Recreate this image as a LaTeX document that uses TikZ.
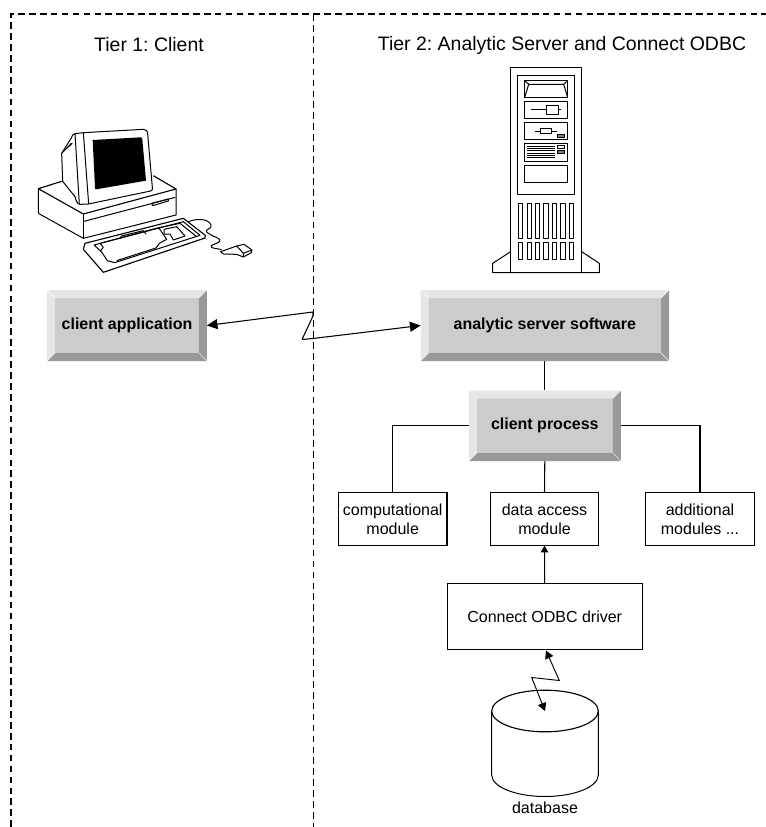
\documentclass[tikz,border=0pt]{standalone}
\usepackage{fontspec}
\setmainfont{Liberation Sans}
\usetikzlibrary{arrows.meta}
\definecolor{bevL}{HTML}{E6E6E6}
\definecolor{bevM}{HTML}{CCCCCC}
\definecolor{bevD}{HTML}{999999}
\newcommand{\bevelbg}[4]{%
  \fill[bevM] (#1,#2) rectangle (#3,#4);
  \fill[bevL] (#1,#4) -- (#1,#2) -- (#3,#2) -- ({#3-8},{#2+8}) -- ({#1+8},{#2+8}) -- ({#1+8},{#4-8}) -- cycle;
  \fill[bevD] (#1,#4) -- (#3,#4) -- (#3,#2) -- ({#3-8},{#2+8}) -- ({#3-8},{#4-8}) -- ({#1+8},{#4-8}) -- cycle;
  \draw[white,line width=0.3pt] (#1,#2) -- ({#1+8},{#2+8}) (#3,#2) -- ({#3-8},{#2+8}) (#3,#4) -- ({#3-8},{#4-8}) (#1,#4) -- ({#1+8},{#4-8});
}
\tikzset{
  line/.style={black,line width=0.8pt},
  thinl/.style={black,line width=0.7pt},
  tier/.style={font=\fontsize{14.6}{17}\selectfont,inner sep=0pt},
  bevel/.style={draw=none,inner sep=0pt,outer sep=0pt,align=center,font=\fontsize{12}{14}\selectfont\bfseries},
  module/.style={draw=black,line width=0.8pt,fill=white,inner sep=0pt,outer sep=0pt,align=center,font=\fontsize{12}{14.25}\selectfont},
  frame/.style={black,line width=1pt,dash pattern=on 5pt off 3.2pt},
  bigtip/.style={{Triangle[length=8pt,width=7.5pt]}-{Triangle[length=8pt,width=7.5pt]}},
  gfx/.style={black,line width=0.75pt,line join=round},
}
\begin{document}
\frenchspacing
\begin{tikzpicture}[x=0.75pt,y=-0.75pt]
\useasboundingbox (0,0) rectangle (766,827);
% frame
\draw[frame] (11,827) -- (11,14) -- (766,14);
\draw[frame] (313.3,14) -- (313.3,827);
% tier titles
\node[tier] (t1) at (149,45) {Tier 1: Client};
\node[tier] (t2) at (562,45) {Tier 2: Analytic Server and Connect ODBC};
% boxes
\bevelbg{47.2}{290}{206.8}{361}
\bevelbg{420.6}{290}{669}{361}
\bevelbg{468.8}{390.5}{620.8}{461}
\node[bevel,minimum width=119.7pt,minimum height=53.25pt] (capp) at (127,325.5) {client application};
\node[bevel,minimum width=186.3pt,minimum height=53.25pt] (asrv) at (544.8,325.5) {analytic server software};
\node[bevel,minimum width=114pt,minimum height=52.9pt] (cproc) at (544.8,425.75) {client process};
\node[module,minimum width=81.4pt,minimum height=40pt] (mcomp) at (392.7,519) {computational\\module};
\node[module,minimum width=81.4pt,minimum height=40pt] (mdata) at (544.5,519) {data access\\module};
\node[module,minimum width=81.4pt,minimum height=40pt] (madd) at (700,519) {additional\\modules ...};
\node[module,minimum width=146.3pt,minimum height=50pt] (odbc) at (544.7,616.5) {Connect ODBC driver};
% connectors
\draw[line] (asrv.south) -- (cproc.north);
\draw[line] (cproc.west) -| (mcomp.north);
\draw[line] (cproc.east) -| (madd.north);
\draw[line] (cproc.south) -- (mdata.north);
\draw[line,-{Triangle[length=5pt,width=5.5pt]}] (odbc.north) -- (mdata.south);
\coordinate (z1) at (313,312);
\coordinate (z2) at (313,316);
\coordinate (z3) at (302,339.5);
\coordinate (z4) at (313,338.5);
\draw[line,line join=bevel,bigtip] (capp.east) -- (z1) -- (z2) -- (z3) -- (z4) -- (asrv.west);
% database
\node[inner sep=0pt,font=\fontsize{12}{14}\selectfont] (dbl) at (545,808) {database};
\coordinate (dbc) at (545,711);
\draw[gfx,fill=white] (491.7,711) -- (491.7,775) arc[start angle=180,end angle=0,x radius=53.3,y radius=21.5] -- (598.3,711);
\draw[gfx,fill=white,line width=0.85pt] (dbc) ellipse[x radius=53.3,y radius=20.8];
\coordinate (y1) at (559.3,680.5);
\coordinate (y2) at (531.7,677.5);
\draw[thinl,{Triangle[length=6pt,width=6.5pt]}-{Triangle[length=6pt,width=6.5pt]}] (546,650.5) -- (y1) -- (y2) -- (dbc);
% server
\begin{scope}[shift={(470,60)},x=0.25pt,y=-0.25pt]
\draw[gfx] (122,22) rectangle (335,638);
\draw[gfx] (122,575) -- (68,610) -- (68,638) -- (388,638) -- (388,610) -- (335,575);
\draw[gfx] (142,47) rectangle (314,403);
\draw[gfx] (164,62) rectangle (293,112);
\draw[gfx] (164,62) -- (176,73) -- (164,112) (293,62) -- (281,73) -- (293,112) (176,73) -- (281,73);
\draw[gfx] (164,125) rectangle (293,176);
\draw[gfx] (183,150) -- (273,150);
\draw[gfx,fill=white] (228,137) rectangle (266,163);
\draw[gfx] (164,188) rectangle (293,240);
\draw[gfx] (194,214) -- (262,214);
\draw[gfx,fill=white] (212,207) rectangle (245,221);
\draw[gfx,fill=gray] (262,224) rectangle (284,232);
\draw[gfx] (164,252) rectangle (293,305);
\foreach \yy in {259,266,273,280,287,294} \draw[gfx] (170,\yy) -- (255,\yy);
\draw[gfx,fill=white] (262,258) rectangle (284,266);
\draw[gfx,fill=gray] (262,271) rectangle (284,280);
\draw[gfx] (164,317) rectangle (293,368);
\foreach \xx in {145,171,196,221,247,272,297} {
  \draw[gfx] (\xx,432) rectangle ++(13,103);
  \draw[gfx] (\xx,547) rectangle ++(13,52);
}
\end{scope}
% computer
\begin{scope}[shift={(20,110)},x=0.25pt,y=-0.25pt]
% base
\draw[gfx,line width=0.85pt] (125,214) -- (55,236) -- (190,312) -- (468,237) -- (400,197);
\draw[gfx] (55,236) -- (55,310) -- (190,385) -- (468,315) -- (468,237);
\draw[gfx,line width=1.2pt] (190,312) -- (190,385);
\draw[gfx] (192,334) -- (466,262);
\draw[gfx] (395,280) -- (445,267) -- (445,273) -- (398,287) -- cycle;
% monitor
\draw[gfx,fill=white] (190,68) -- (165,71) .. controls (158,72) and (156,78) .. (154,84) -- (125,130) -- (128,214) -- (165,260) .. controls (168,270) and (170,282) .. (180,283) -- (205,282) -- (392,243) .. controls (398,241) and (398,238) .. (397,232) -- (383,72) .. controls (382,62) and (378,58) .. (370,58) -- cycle;
\draw[gfx] (190,68) -- (206,282);
\draw[gfx] (165,71) -- (178,283);
\draw[gfx] (125,130) -- (154,100) (130,124) -- (157,100);
\fill[black] (218,90) -- (362,82) .. controls (366,82) and (366,84) .. (367,88) -- (378,212) -- (228,238) .. controls (226,238) and (225,236) .. (225,232) -- cycle;
% keyboard
\draw[gfx,line width=0.85pt,fill=white] (195,400) -- (490,325) -- (556,376) -- (555,384) -- (250,487) -- (190,418) -- cycle;
\draw[gfx] (222,405) -- (490,335) -- (540,376) -- (284,458) -- (262,452) -- (245,426) -- (222,405);
\draw[gfx] (240,400) -- (416,353) -- (440,388) -- (418,400) -- (408,414) -- (290,452);
\draw[gfx] (300,385) -- (305,378) -- (370,362) -- (378,372) (416,353) -- (480,340) -- (530,380);
\draw[gfx] (432,358) -- (470,350) -- (495,378) -- (460,390) -- (450,372) -- (432,372) -- cycle;
\draw[gfx] (240,400) -- (250,412) -- (240,424);
% cable
\draw[gfx] (505,335) .. controls (530,325) and (565,325) .. (573,345) .. controls (580,360) and (545,355) .. (565,370) .. controls (590,385) and (605,385) .. (598,395) .. controls (590,403) and (565,405) .. (575,412) .. controls (585,418) and (600,415) .. (605,420);
% mouse
\draw[gfx,fill=white] (602,425) -- (650,408) -- (672,403) -- (696,420) -- (694,428) -- (670,441) -- (650,433) -- (610,432) -- cycle;
\draw[gfx] (650,408) -- (670,430) -- (696,420) (670,430) -- (670,441);
\end{scope}
\end{tikzpicture}
\end{document}
